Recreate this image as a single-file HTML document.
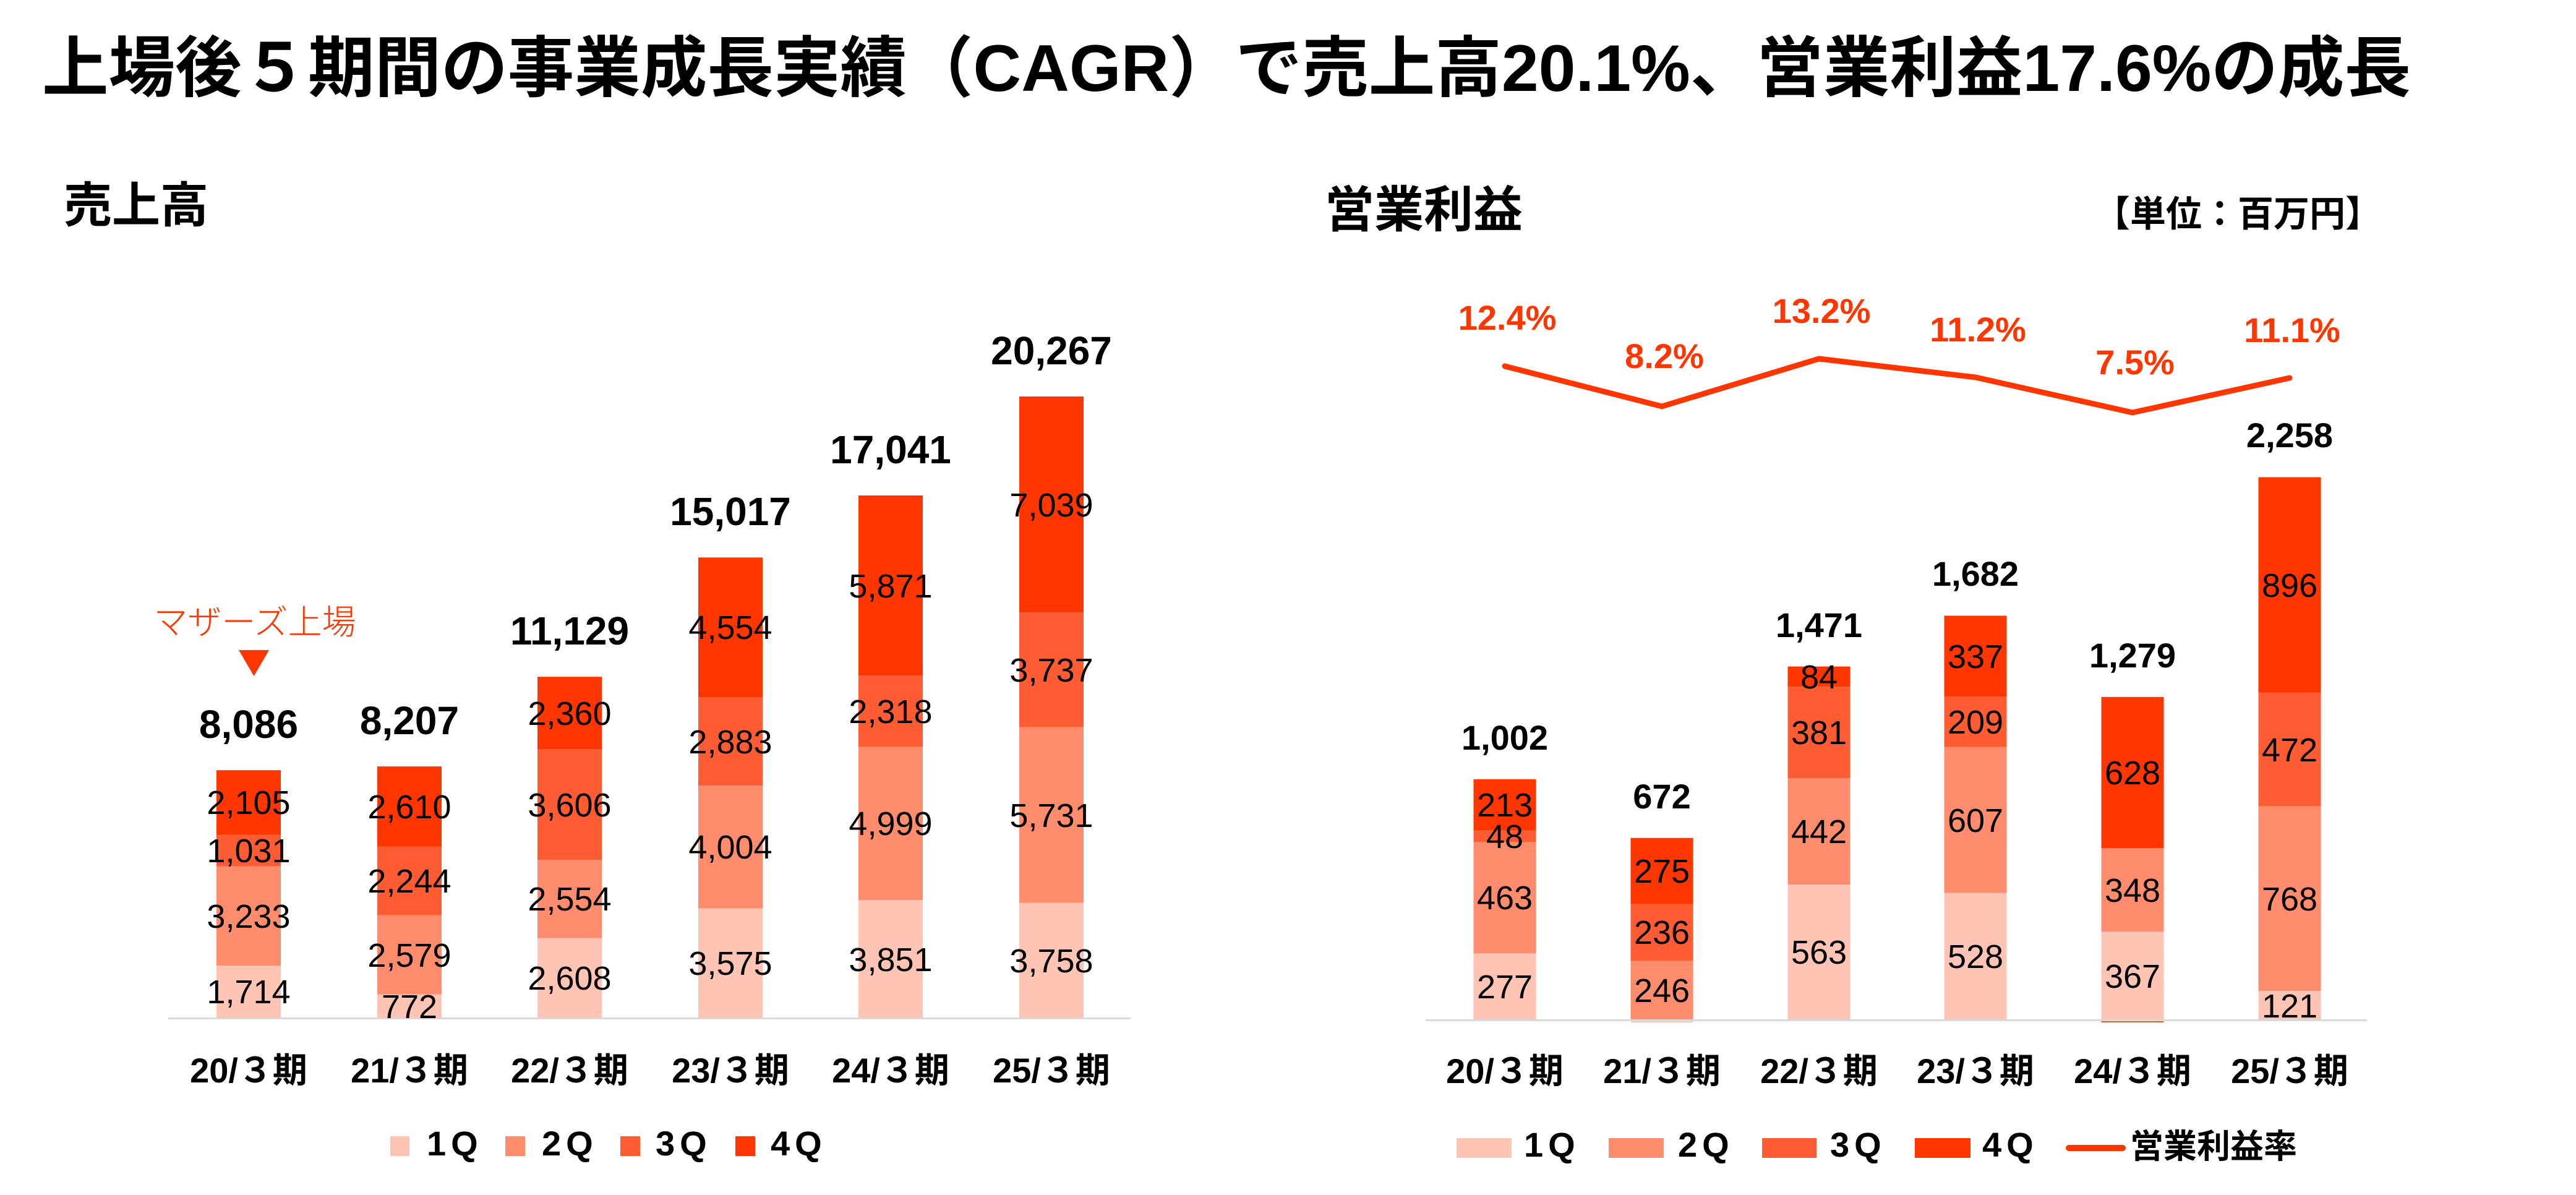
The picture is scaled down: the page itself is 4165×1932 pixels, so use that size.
<!DOCTYPE html>
<html><head><meta charset="utf-8">
<style>
html,body{margin:0;padding:0;background:#fff;}
svg{display:block;}
text{font-family:"Liberation Sans","Noto Sans CJK JP",sans-serif;}
.b{font-weight:700;}
.seg{font-size:54px;fill:#000;text-anchor:middle;}
.totL{font-size:64px;font-weight:700;fill:#000;text-anchor:middle;}
.totR{font-size:56px;font-weight:700;fill:#000;text-anchor:middle;}
.xl{font-size:56px;font-weight:700;fill:#000;text-anchor:middle;}
.pct{font-size:56px;font-weight:700;fill:#FF3600;text-anchor:middle;}
.lg{font-size:56px;font-weight:700;fill:#000;letter-spacing:8px;}
</style></head>
<body>
<svg width="4165" height="1932" viewBox="0 0 4165 1932" xmlns="http://www.w3.org/2000/svg">
<rect width="4165" height="1932" fill="#fff"/>

<!-- Title -->
<text x="68" y="147" class="b" font-size="107" textLength="3830" lengthAdjust="spacingAndGlyphs">上場後５期間の事業成長実績（CAGR）で売上高20.1%、営業利益17.6%の成長</text>

<text x="103" y="359" class="b" font-size="78">売上高</text>
<text x="2142" y="367" class="b" font-size="80">営業利益</text>
<text x="3850" y="366" class="b" font-size="58" text-anchor="end">【単位：百万円】</text>

<!-- ============ LEFT CHART ============ -->
<rect x="350" y="1561" width="104" height="85" fill="#FFC4B4"/>
<rect x="350" y="1400.7" width="104" height="160.3" fill="#FF8C6D"/>
<rect x="350" y="1349.6" width="104" height="51.1" fill="#FF5C33"/>
<rect x="350" y="1245.2" width="104" height="104.4" fill="#FF3600"/>

<rect x="610" y="1607.7" width="104" height="38.3" fill="#FFC4B4"/>
<rect x="610" y="1479.8" width="104" height="127.9" fill="#FF8C6D"/>
<rect x="610" y="1368.5" width="104" height="111.3" fill="#FF5C33"/>
<rect x="610" y="1239.1" width="104" height="129.4" fill="#FF3600"/>

<rect x="869" y="1516.7" width="104" height="129.3" fill="#FFC4B4"/>
<rect x="869" y="1390" width="104" height="126.7" fill="#FF8C6D"/>
<rect x="869" y="1211.2" width="104" height="178.8" fill="#FF5C33"/>
<rect x="869" y="1094.2" width="104" height="117" fill="#FF3600"/>

<rect x="1129" y="1468.7" width="104" height="177.3" fill="#FFC4B4"/>
<rect x="1129" y="1270.1" width="104" height="198.6" fill="#FF8C6D"/>
<rect x="1129" y="1127.1" width="104" height="143" fill="#FF5C33"/>
<rect x="1129" y="901.3" width="104" height="225.8" fill="#FF3600"/>

<rect x="1388" y="1455" width="104" height="191" fill="#FFC4B4"/>
<rect x="1388" y="1207.1" width="104" height="247.9" fill="#FF8C6D"/>
<rect x="1388" y="1092.1" width="104" height="115" fill="#FF5C33"/>
<rect x="1388" y="801" width="104" height="291.1" fill="#FF3600"/>

<rect x="1648" y="1459.6" width="104" height="186.4" fill="#FFC4B4"/>
<rect x="1648" y="1175.4" width="104" height="284.2" fill="#FF8C6D"/>
<rect x="1648" y="990.1" width="104" height="185.3" fill="#FF5C33"/>
<rect x="1648" y="641" width="104" height="349.1" fill="#FF3600"/>

<line x1="272" y1="1646.5" x2="1828" y2="1646.5" stroke="#D9D9D9" stroke-width="3"/>

<text class="seg" x="402" y="1622">1,714</text>
<text class="seg" x="402" y="1500">3,233</text>
<text class="seg" x="402" y="1394">1,031</text>
<text class="seg" x="402" y="1316">2,105</text>

<text class="seg" x="662" y="1646">772</text>
<text class="seg" x="662" y="1563">2,579</text>
<text class="seg" x="662" y="1443">2,244</text>
<text class="seg" x="662" y="1323">2,610</text>

<text class="seg" x="921" y="1600">2,608</text>
<text class="seg" x="921" y="1472">2,554</text>
<text class="seg" x="921" y="1320">3,606</text>
<text class="seg" x="921" y="1172">2,360</text>

<text class="seg" x="1181" y="1576">3,575</text>
<text class="seg" x="1181" y="1388">4,004</text>
<text class="seg" x="1181" y="1218">2,883</text>
<text class="seg" x="1181" y="1033">4,554</text>

<text class="seg" x="1440" y="1570">3,851</text>
<text class="seg" x="1440" y="1350">4,999</text>
<text class="seg" x="1440" y="1169">2,318</text>
<text class="seg" x="1440" y="966">5,871</text>

<text class="seg" x="1700" y="1572">3,758</text>
<text class="seg" x="1700" y="1337">5,731</text>
<text class="seg" x="1700" y="1102">3,737</text>
<text class="seg" x="1700" y="835">7,039</text>

<text class="totL" x="402" y="1193">8,086</text>
<text class="totL" x="662" y="1187">8,207</text>
<text class="totL" x="921" y="1042">11,129</text>
<text class="totL" x="1181" y="849">15,017</text>
<text class="totL" x="1440" y="749">17,041</text>
<text class="totL" x="1700" y="589">20,267</text>

<text x="412" y="1025" font-size="55" font-weight="300" fill="#FF3600" text-anchor="middle">マザーズ上場</text>
<polygon points="386,1051 435,1051 410.5,1093" fill="#FF3600"/>

<text class="xl" x="402" y="1750">20/３期</text>
<text class="xl" x="662" y="1750">21/３期</text>
<text class="xl" x="921" y="1750">22/３期</text>
<text class="xl" x="1181" y="1750">23/３期</text>
<text class="xl" x="1440" y="1750">24/３期</text>
<text class="xl" x="1700" y="1750">25/３期</text>

<rect x="631" y="1837" width="31" height="32" fill="#FFC4B4"/>
<text class="lg" x="690" y="1868">1Q</text>
<rect x="817" y="1837" width="32" height="32" fill="#FF8C6D"/>
<text class="lg" x="876" y="1868">2Q</text>
<rect x="1003" y="1837" width="32" height="32" fill="#FF5C33"/>
<text class="lg" x="1060" y="1868">3Q</text>
<rect x="1189" y="1837" width="32" height="32" fill="#FF3600"/>
<text class="lg" x="1246" y="1868">4Q</text>

<!-- ============ RIGHT CHART ============ -->
<rect x="2382.5" y="1541.3" width="101" height="107.7" fill="#FFC4B4"/>
<rect x="2382.5" y="1361.3" width="101" height="180" fill="#FF8C6D"/>
<rect x="2382.5" y="1342.6" width="101" height="18.7" fill="#FF5C33"/>
<rect x="2382.5" y="1259.8" width="101" height="82.8" fill="#FF3600"/>

<rect x="2636.5" y="1649" width="101" height="4" fill="#FFC4B4"/>
<rect x="2636.5" y="1553.4" width="101" height="95.6" fill="#FF8C6D"/>
<rect x="2636.5" y="1461.6" width="101" height="91.8" fill="#FF5C33"/>
<rect x="2636.5" y="1354.7" width="101" height="106.9" fill="#FF3600"/>

<rect x="2890.5" y="1430.1" width="101" height="218.9" fill="#FFC4B4"/>
<rect x="2890.5" y="1258.3" width="101" height="171.8" fill="#FF8C6D"/>
<rect x="2890.5" y="1110.2" width="101" height="148.1" fill="#FF5C33"/>
<rect x="2890.5" y="1077.5" width="101" height="32.7" fill="#FF3600"/>

<rect x="3143.5" y="1443.7" width="101" height="205.3" fill="#FFC4B4"/>
<rect x="3143.5" y="1207.7" width="101" height="236" fill="#FF8C6D"/>
<rect x="3143.5" y="1126.4" width="101" height="81.3" fill="#FF5C33"/>
<rect x="3143.5" y="995.4" width="101" height="131" fill="#FF3600"/>

<rect x="3397.5" y="1506.3" width="101" height="142.7" fill="#FFC4B4"/>
<rect x="3397.5" y="1371" width="101" height="135.3" fill="#FF8C6D"/>
<rect x="3397.5" y="1649" width="101" height="4" fill="#E85A36"/>
<rect x="3397.5" y="1126.8" width="101" height="244.2" fill="#FF3600"/>

<rect x="3651.5" y="1602" width="101" height="47" fill="#FFC4B4"/>
<rect x="3651.5" y="1303.4" width="101" height="298.6" fill="#FF8C6D"/>
<rect x="3651.5" y="1119.9" width="101" height="183.5" fill="#FF5C33"/>
<rect x="3651.5" y="771.5" width="101" height="348.4" fill="#FF3600"/>

<line x1="2305" y1="1649.5" x2="3827" y2="1649.5" stroke="#D9D9D9" stroke-width="3"/>

<text class="seg" x="2433" y="1614">277</text>
<text class="seg" x="2433" y="1470">463</text>
<text class="seg" x="2433" y="1371">48</text>
<text class="seg" x="2433" y="1320">213</text>

<text class="seg" x="2687" y="1620">246</text>
<text class="seg" x="2687" y="1526">236</text>
<text class="seg" x="2687" y="1427">275</text>

<text class="seg" x="2941" y="1558">563</text>
<text class="seg" x="2941" y="1363">442</text>
<text class="seg" x="2941" y="1203">381</text>
<text class="seg" x="2941" y="1113">84</text>

<text class="seg" x="3194" y="1565">528</text>
<text class="seg" x="3194" y="1345">607</text>
<text class="seg" x="3194" y="1186">209</text>
<text class="seg" x="3194" y="1080">337</text>

<text class="seg" x="3448" y="1597">367</text>
<text class="seg" x="3448" y="1458">348</text>
<text class="seg" x="3448" y="1268">628</text>

<text class="seg" x="3702" y="1645">121</text>
<text class="seg" x="3702" y="1472">768</text>
<text class="seg" x="3702" y="1231">472</text>
<text class="seg" x="3702" y="965">896</text>

<text class="totR" x="2433" y="1212">1,002</text>
<text class="totR" x="2687" y="1307">672</text>
<text class="totR" x="2941" y="1030">1,471</text>
<text class="totR" x="3194" y="947">1,682</text>
<text class="totR" x="3448" y="1079">1,279</text>
<text class="totR" x="3702" y="723">2,258</text>

<polyline points="2433,592 2687,657 2941,580 3194,610 3448,667 3702,611" fill="none" stroke="#FF3600" stroke-width="9" stroke-linecap="round" stroke-linejoin="miter"/>

<text class="pct" x="2437" y="533">12.4%</text>
<text class="pct" x="2691" y="595">8.2%</text>
<text class="pct" x="2945" y="522">13.2%</text>
<text class="pct" x="3198" y="552">11.2%</text>
<text class="pct" x="3452" y="605">7.5%</text>
<text class="pct" x="3706" y="553">11.1%</text>

<text class="xl" x="2433" y="1751">20/３期</text>
<text class="xl" x="2687" y="1751">21/３期</text>
<text class="xl" x="2941" y="1751">22/３期</text>
<text class="xl" x="3194" y="1751">23/３期</text>
<text class="xl" x="3448" y="1751">24/３期</text>
<text class="xl" x="3702" y="1751">25/３期</text>

<rect x="2355" y="1840" width="89" height="32" fill="#FFC4B4"/>
<text class="lg" x="2464" y="1870">1Q</text>
<rect x="2601" y="1840" width="89" height="32" fill="#FF8C6D"/>
<text class="lg" x="2713" y="1870">2Q</text>
<rect x="2849" y="1840" width="88" height="32" fill="#FF5C33"/>
<text class="lg" x="2959" y="1870">3Q</text>
<rect x="3096" y="1840" width="90" height="32" fill="#FF3600"/>
<text class="lg" x="3205" y="1870">4Q</text>
<line x1="3345" y1="1856" x2="3432" y2="1856" stroke="#FF3600" stroke-width="10" stroke-linecap="round"/>
<text x="3444" y="1872" font-size="54" font-weight="700" fill="#000">営業利益率</text>
</svg>
</body></html>
